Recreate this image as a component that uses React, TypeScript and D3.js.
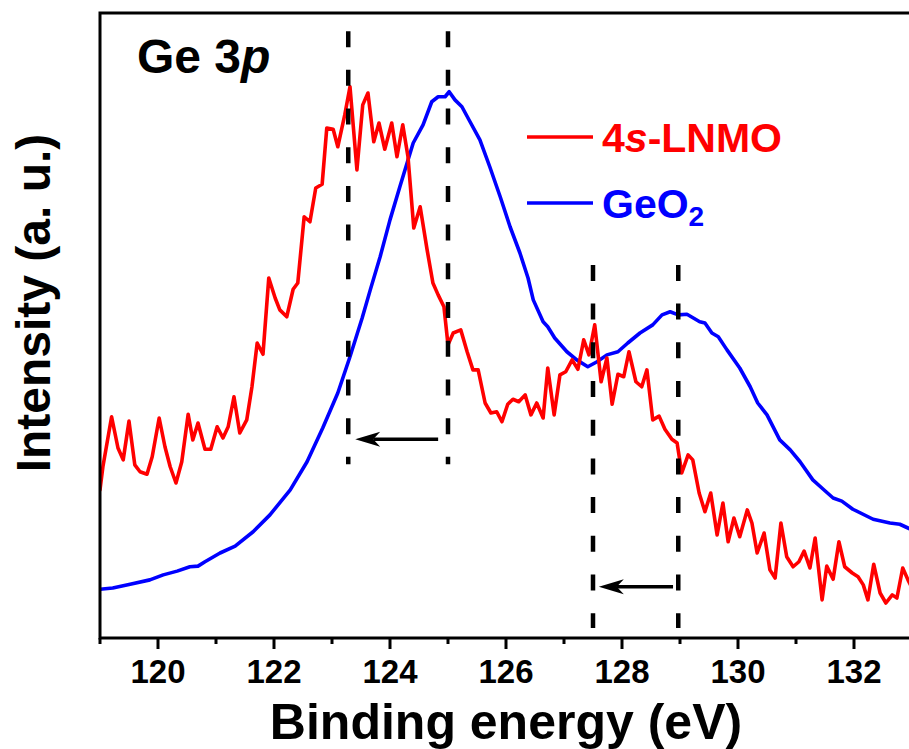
import React from "react";
import * as d3 from "d3";

// Ge 3p XPS spectra: binding energy (eV) vs. intensity (a. u.)
const lnmoEnergy = [
  119.0, 119.05, 119.2, 119.31, 119.4, 119.5, 119.6, 119.69, 119.81, 119.9,
  120.02, 120.12, 120.21, 120.31, 120.41, 120.52, 120.6, 120.69, 120.81, 120.91,
  121.02, 121.12, 121.21, 121.31, 121.41, 121.53, 121.62, 121.71, 121.81, 121.91,
  122.02, 122.1, 122.22, 122.33, 122.41, 122.52, 122.62, 122.72, 122.83, 122.91,
  123.02, 123.1, 123.22, 123.31, 123.43, 123.53, 123.62, 123.72, 123.81, 123.91,
  124.03, 124.12, 124.22, 124.31, 124.41, 124.52, 124.64, 124.74, 124.83, 124.93,
  125.0, 125.09, 125.22, 125.33, 125.43, 125.52, 125.64, 125.74, 125.84, 125.93,
  126.03, 126.12, 126.22, 126.33, 126.43, 126.53, 126.64, 126.72, 126.83, 126.93,
  127.03, 127.14, 127.24, 127.34, 127.43, 127.53, 127.64, 127.74, 127.83, 127.93,
  128.03, 128.12, 128.24, 128.34, 128.43, 128.53, 128.64, 128.74, 128.86, 128.95,
  129.03, 129.14, 129.22, 129.33, 129.43, 129.53, 129.64, 129.74, 129.83, 129.93,
  130.03, 130.16, 130.24, 130.33, 130.45, 130.55, 130.64, 130.74, 130.84, 130.95,
  131.05, 131.14, 131.24, 131.33, 131.45, 131.53, 131.64, 131.74, 131.84, 131.97,
  132.07, 132.16, 132.24, 132.34, 132.45, 132.55, 132.66, 132.74, 132.84, 132.93,
  133.0,
];
const lnmoIntensity = [
  23.7, 27.4, 35.4, 30.4, 28.5, 34.7, 27.7, 26.6, 26.2, 29.0,
  35.2, 30.6, 27.4, 24.8, 28.2, 35.8, 31.7, 34.4, 30.2, 30.2,
  33.8, 32.0, 33.8, 38.6, 32.8, 34.9, 40.2, 47.2, 45.4, 57.6,
  54.4, 52.5, 51.4, 55.8, 56.8, 67.4, 66.6, 72.0, 72.6, 81.6,
  81.4, 78.6, 83.7, 88.2, 74.9, 85.3, 87.2, 79.4, 82.4, 78.2,
  82.4, 77.0, 82.1, 77.0, 65.6, 69.0, 62.1, 56.8, 54.9, 53.0,
  46.9, 48.8, 49.3, 45.8, 42.9, 42.9, 37.6, 36.0, 36.2, 34.6,
  37.4, 38.2, 37.8, 38.9, 35.7, 37.6, 35.2, 43.2, 35.7, 42.1,
  42.6, 44.5, 43.0, 47.7, 45.3, 50.1, 41.0, 44.8, 37.4, 42.2,
  41.8, 45.8, 41.0, 40.2, 42.9, 34.9, 35.5, 33.4, 31.8, 31.2,
  26.4, 29.3, 28.5, 23.2, 20.2, 23.2, 16.5, 21.6, 15.4, 19.2,
  16.2, 20.5, 18.4, 13.6, 16.8, 10.9, 9.6, 18.4, 13.0, 11.4,
  12.2, 13.9, 11.2, 16.0, 6.1, 11.5, 9.4, 15.4, 11.4, 10.4,
  9.8, 8.5, 6.1, 11.8, 7.2, 5.6, 6.9, 6.4, 11.2, 9.3,
  8.0,
];

const geo2Energy = [
  119.0, 119.22, 119.52, 119.86, 120.09, 120.33, 120.55, 120.69, 120.81, 121.07,
  121.33, 121.64, 121.93, 122.28, 122.57, 122.84, 123.1, 123.31, 123.52, 123.66,
  123.83, 124.0, 124.17, 124.4, 124.57, 124.72, 124.83, 124.95, 125.02, 125.12,
  125.24, 125.38, 125.55, 125.72, 125.9, 126.07, 126.24, 126.38, 126.47, 126.64,
  126.72, 126.84, 127.05, 127.22, 127.41, 127.57, 127.74, 127.93, 128.1, 128.31,
  128.53, 128.69, 128.83, 128.97, 129.12, 129.34, 129.43, 129.55, 129.66, 129.81,
  130.03, 130.21, 130.34, 130.5, 130.72, 130.9, 131.07, 131.29, 131.47, 131.64,
  131.79, 131.98, 132.33, 132.62, 132.79, 132.93, 133.0,
];
const geo2Intensity = [
  7.8, 8.0, 8.6, 9.3, 10.1, 10.7, 11.4, 11.5, 12.2, 13.6,
  14.7, 17.0, 19.7, 23.7, 28.2, 33.6, 39.2, 45.0, 51.2, 55.7,
  61.0, 66.9, 72.2, 79.2, 82.1, 85.8, 86.6, 86.6, 87.4, 86.1,
  85.0, 82.6, 79.7, 75.4, 70.6, 65.8, 61.6, 57.6, 54.1, 50.6,
  49.8, 48.0, 45.8, 44.5, 43.4, 44.2, 45.3, 45.8, 47.2, 48.8,
  50.1, 51.7, 52.2, 51.7, 51.8, 50.6, 50.4, 48.8, 48.2, 46.1,
  43.2, 40.2, 37.6, 35.7, 31.7, 30.1, 28.2, 25.3, 23.8, 22.4,
  21.9, 20.6, 19.0, 18.4, 18.2, 17.6, 17.3,
];

// peak-position markers (eV) with their vertical extent (a. u.)
const markerEnergy = [123.28, 125.0, 127.5, 128.97];
const markerTop = [97.1, 97.1, 59.7, 59.7];
const markerBottom = [27.8, 27.8, 1.6, 1.6];

// shift arrows: from -> to (eV) at a given intensity level
const arrowFrom = [124.83, 128.88];
const arrowTo = [123.4, 127.6];
const arrowLevel = [31.8, 8.2];

const xTicks = [120, 122, 124, 126, 128, 130, 132];
const xMinorTicks = [119, 121, 123, 125, 127, 129, 131, 133];

const seriesNames = ["4s-LNMO", "GeO2"];
const seriesColors = ["#ff0000", "#0000ff"];

const W = 909;
const H = 749;
const FONT = "'Liberation Sans', Arial, Helvetica, sans-serif";

export default function App() {
  const x = d3.scaleLinear().domain([119, 133]).range([100, 912]);
  const y = d3.scaleLinear().domain([0, 100]).range([638, 13]);

  const line = d3
    .line<[number, number]>()
    .x((d) => x(d[0]))
    .y((d) => y(d[1]));

  const lnmo = lnmoEnergy.map((e, i) => [e, lnmoIntensity[i]] as [number, number]);
  const geo2 = geo2Energy.map((e, i) => [e, geo2Intensity[i]] as [number, number]);

  const x0 = x.range()[0];
  const x1 = x.range()[1];
  const yb = y.range()[0];
  const yt = y.range()[1];

  return (
    <svg
      width={W}
      height={H}
      style={{ position: "fixed", left: 0, top: 0, background: "#fff" }}
      fontFamily={FONT}
    >
      <defs>
        <clipPath id="plot">
          <rect x={x0} y={yt} width={x1 - x0} height={yb - yt} />
        </clipPath>
      </defs>

      {/* spectra */}
      <g clipPath="url(#plot)" fill="none" strokeLinejoin="round" strokeLinecap="round">
        <path d={line(geo2) || ""} stroke={seriesColors[1]} strokeWidth={3.6} />
        <path d={line(lnmo) || ""} stroke={seriesColors[0]} strokeWidth={3.6} />
      </g>

      {/* dashed peak markers */}
      {markerEnergy.map((e, i) => (
        <line
          key={"m" + i}
          x1={x(e)}
          x2={x(e)}
          y1={y(markerTop[i])}
          y2={y(markerBottom[i])}
          stroke="#000"
          strokeWidth={4.5}
          strokeDasharray="16 22.7"
        />
      ))}

      {/* shift arrows */}
      {arrowFrom.map((f, i) => {
        const tx = x(arrowTo[i]);
        const ty = y(arrowLevel[i]);
        const headLen = 25;
        const half = 7.5;
        const notch = 18;
        return (
          <g key={"a" + i}>
            <line x1={x(f)} x2={tx + notch} y1={ty} y2={ty} stroke="#000" strokeWidth={3.5} />
            <path
              d={`M${tx},${ty} L${tx + headLen},${ty - half} L${tx + notch},${ty} L${tx + headLen},${ty + half} Z`}
              fill="#000"
            />
          </g>
        );
      })}

      {/* frame */}
      <rect
        x={x0}
        y={yt}
        width={x1 - x0}
        height={yb - yt}
        fill="none"
        stroke="#000"
        strokeWidth={3}
      />

      {/* bottom ticks */}
      {xTicks.map((t) => (
        <line key={"t" + t} x1={x(t)} x2={x(t)} y1={yb} y2={yb + 11} stroke="#000" strokeWidth={3} />
      ))}
      {xMinorTicks.map((t) => (
        <line key={"mt" + t} x1={x(t)} x2={x(t)} y1={yb} y2={yb + 6} stroke="#000" strokeWidth={3} />
      ))}
      {xTicks.map((t) => (
        <text
          key={"l" + t}
          x={x(t)}
          y={683}
          textAnchor="middle"
          fontSize={33}
          fontWeight="bold"
          fill="#000"
        >
          {d3.format("d")(t)}
        </text>
      ))}

      {/* axis titles */}
      <text x={506} y={739} textAnchor="middle" fontSize={50} fontWeight="bold" fill="#000">
        Binding energy (eV)
      </text>
      <text
        transform="translate(50,303) rotate(-90)"
        textAnchor="middle"
        fontSize={48}
        fontWeight="bold"
        fill="#000"
      >
        Intensity (a. u.)
      </text>

      {/* panel label */}
      <text x={137} y={73} fontSize={48} fontWeight="bold" fill="#000">
        Ge 3<tspan fontStyle="italic">p</tspan>
      </text>

      {/* legend */}
      <line x1={527} x2={593} y1={137} y2={137} stroke={seriesColors[0]} strokeWidth={3.6} />
      <text x={602} y={152} fontSize={41} fontWeight="bold" fill={seriesColors[0]}>
        {seriesNames[0].slice(0, 1)}
        <tspan fontStyle="italic">{seriesNames[0].slice(1, 2)}</tspan>
        {seriesNames[0].slice(2)}
      </text>
      <line x1={527} x2={593} y1={203} y2={203} stroke={seriesColors[1]} strokeWidth={3.6} />
      <text x={602} y={218} fontSize={41} fontWeight="bold" fill={seriesColors[1]}>
        {seriesNames[1].slice(0, 3)}
        <tspan fontSize={28} dy={8}>
          {seriesNames[1].slice(3)}
        </tspan>
      </text>
    </svg>
  );
}
